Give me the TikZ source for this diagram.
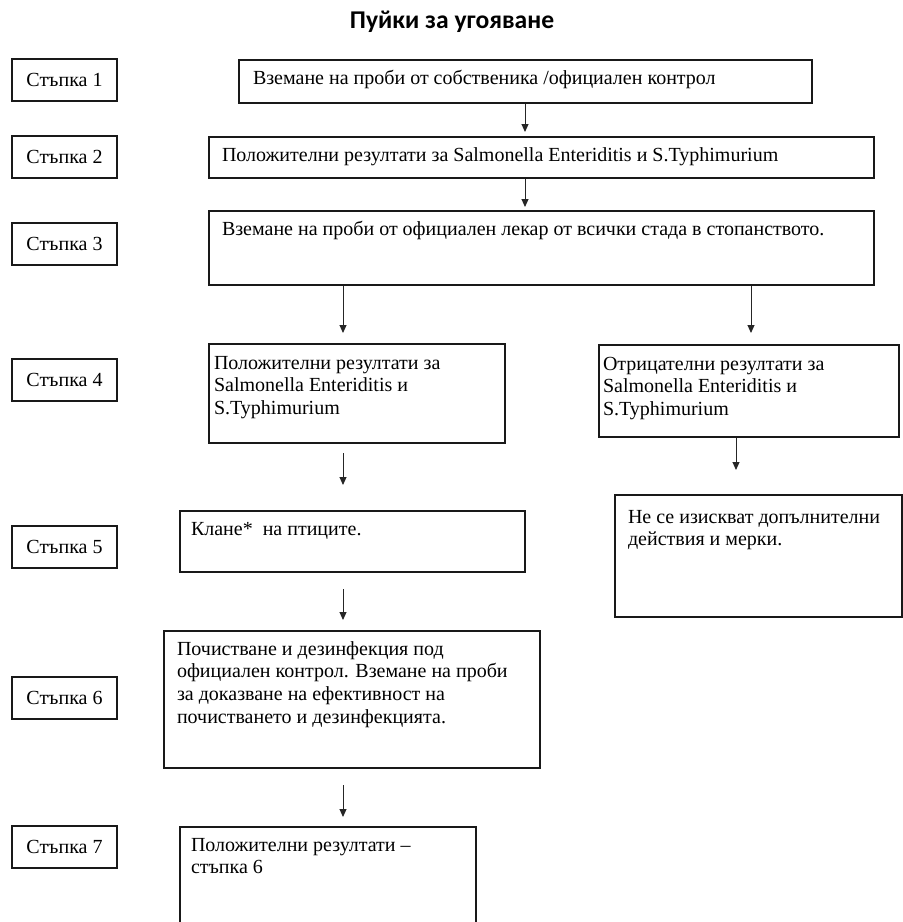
\documentclass[tikz,border=0pt]{standalone}
\usepackage{fontspec}
\setmainfont{Liberation Serif}
\newfontfamily\titlefont{Carlito}
\usetikzlibrary{arrows.meta}
% text at the top left of a box: [first baseline], width, height, lines
\newcommand{\boxtext}[4][12pt]{\parbox[c][#3][t]{#2}{\raggedright\rule{0pt}{#1}#4}}

\begin{document}
\begin{tikzpicture}[x=0.5pt,y=-0.5pt,
  flowbox/.style={draw=black!90,line width=1pt,anchor=north west,inner ysep=0pt,inner xsep=6.5pt,
    font=\fontsize{10}{11.4}\selectfont},
  stepbox/.style={draw=black!90,line width=1pt,minimum width=52.5pt,minimum height=21pt,inner sep=0pt,
    font=\fontsize{10}{11.4}\selectfont},
  flow/.style={-{Triangle[length=4pt,width=3.5pt]},line width=0.5pt,color=black!85}]
  \useasboundingbox (0,0) rectangle (902,922);

  \node (title) at (452,22) {\titlefont\bfseries\fontsize{12.8}{14}\selectfont Пуйки за угояване};

  % steps on the left
  \node[stepbox] (step1) at (64.5,80) {Стъпка 1};
  \node[stepbox] (step2) at (64.5,157) {Стъпка 2};
  \node[stepbox] (step3) at (64.5,244) {Стъпка 3};
  \node[stepbox] (step4) at (64.5,380) {Стъпка 4};
  \node[stepbox] (step5) at (64.5,547) {Стъпка 5};
  \node[stepbox] (step6) at (64.5,698) {Стъпка 6};
  \node[stepbox] (step7) at (64.5,847) {Стъпка 7};

  % boxes of the flow
  \node[flowbox,inner xsep=7pt] (probi) at (238,59) {\boxtext{272.5pt}{21.5pt}{Вземане на проби от собственика /официален контрол}};
  \node[flowbox] (polozh) at (208,136) {\boxtext{319.5pt}{20.5pt}{Положителни резултати за Salmonella Enteriditis и S.Typhimurium}};
  \node[flowbox] (vzemane) at (208,210) {\boxtext{319.5pt}{37pt}{Вземане на проби от официален лекар от всички стада в стопанството.}};
  \node[flowbox,inner xsep=2.5pt] (poz4) at (208,343) {\boxtext[12.5pt]{143pt}{49.5pt}{Положителни резултати за\\ Salmonella Enteriditis и\\ S.Typhimurium}};
  \node[flowbox,inner xsep=2pt] (otr4) at (598,344) {\boxtext[12.5pt]{146pt}{46pt}{Отрицателни резултати за\\ Salmonella Enteriditis и\\ S.Typhimurium}};
  \node[flowbox,inner xsep=5.5pt] (klane) at (179,510) {\boxtext{161.5pt}{30.5pt}{Клане*\ \ на птиците.}};
  \node[flowbox] (nyama) at (614,494) {\boxtext[14pt]{130.5pt}{61pt}{Не се изискват допълнителни\\ действия и мерки.}};
  \node[flowbox] (chist) at (163,630) {\boxtext{175pt}{68.5pt}{Почистване и дезинфекция под\\ официален контрол. Вземане на проби\\ за доказване на ефективност на\\ почистването и дезинфекцията.}};
  \node[flowbox,inner xsep=5.5pt] (krai) at (179,826) {\boxtext{137pt}{50pt}{Положителни резултати –\\ стъпка 6}};

  \coordinate (midcol) at (525,0);
  \coordinate (leftcol) at (343,0);
  \coordinate (rightcol) at (751,0);
  \coordinate (rightcol2) at (736,0);

  \draw[flow,shorten >=2pt] (probi.south -| midcol) -- (polozh.north -| midcol);
  \draw[flow,shorten >=1.5pt] (polozh.south -| midcol) -- (vzemane.north -| midcol);
  \draw[flow,shorten >=5pt] (vzemane.south -| leftcol) -- (poz4.north -| leftcol);
  \draw[flow,shorten >=5.5pt] (vzemane.south -| rightcol) -- (otr4.north -| rightcol);
  \draw[flow,shorten <=4.5pt,shorten >=12.5pt] (poz4.south -| leftcol) -- (klane.north -| leftcol);
  \draw[flow,shorten >=12pt] (otr4.south -| rightcol2) -- (nyama.north -| rightcol2);
  \draw[flow,shorten <=8pt,shorten >=5pt] (klane.south -| leftcol) -- (chist.north -| leftcol);
  \draw[flow,shorten <=8pt,shorten >=4.5pt] (chist.south -| leftcol) -- (krai.north -| leftcol);
\end{tikzpicture}
\end{document}
